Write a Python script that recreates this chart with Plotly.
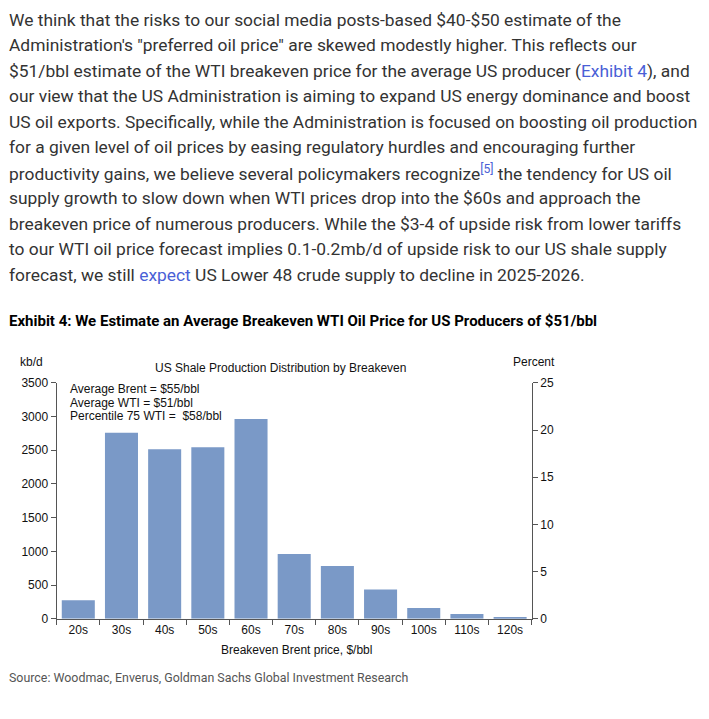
import plotly.graph_objects as go

W, H = 709, 719

categories = ["20s", "30s", "40s", "50s", "60s", "70s", "80s", "90s", "100s", "110s", "120s"]
production_kbd = [275, 2760, 2515, 2545, 2965, 960, 785, 435, 160, 73, 29]
left_ticks = [0, 500, 1000, 1500, 2000, 2500, 3000, 3500]
right_ticks = [0, 5, 10, 15, 20, 25]

LINK = "#4a5fd6"
paragraph_lines = [
    "We think that the risks to our social media posts-based $40-$50 estimate of the",
    "Administration's \"preferred oil price\" are skewed modestly higher. This reflects our",
    "$51/bbl estimate of the WTI breakeven price for the average US producer (<span style='color:%s'>Exhibit 4</span>), and" % LINK,
    "our view that the US Administration is aiming to expand US energy dominance and boost",
    "US oil exports. Specifically, while the Administration is focused on boosting oil production",
    "for a given level of oil prices by easing regulatory hurdles and encouraging further",
    "productivity gains, we believe several policymakers recognize<sup><span style='color:%s'>[5]</span></sup> the tendency for US oil" % LINK,
    "supply growth to slow down when WTI prices drop into the $60s and approach the",
    "breakeven price of numerous producers. While the $3-4 of upside risk from lower tariffs",
    "to our WTI oil price forecast implies 0.1-0.2mb/d of upside risk to our US shale supply",
    "forecast, we still <span style='color:%s'>expect</span> US Lower 48 crude supply to decline in 2025-2026." % LINK,
]
heading = "Exhibit 4: We Estimate an Average Breakeven WTI Oil Price for US Producers of $51/bbl"
chart_title = "US Shale Production Distribution by Breakeven"
stats_lines = ["Average Brent = $55/bbl", "Average WTI = $51/bbl", "Percentile 75 WTI =  $58/bbl"]
source = "Source: Woodmac, Enverus, Goldman Sachs Global Investment Research"

def px(x):
    return x / W

def py(y):
    return 1 - y / H

x0, x1 = 56.7, 531.7
y_top, y_bot = 383.3, 624.0

fig = go.Figure()
fig.add_trace(go.Bar(x=categories, y=production_kbd, marker=dict(color="#7a99c7", line=dict(width=0)),
                     hoverinfo="skip", showlegend=False))
fig.add_trace(go.Scatter(x=[categories[0]], y=[None], yaxis="y2", showlegend=False, hoverinfo="skip"))

AX = "#555555"
CH = "Liberation Sans, Arial, sans-serif"
fig.update_layout(
    width=W, height=H, autosize=False,
    margin=dict(l=0, r=0, t=0, b=0),
    paper_bgcolor="white", plot_bgcolor="white",
    bargap=0.235,
    xaxis=dict(domain=[px(x0), px(x1)], range=[-0.5, 10.5], type="category",
               showline=True, linecolor=AX, linewidth=1.3, ticks="outside", tickson="boundaries",
               ticklen=5, tickcolor=AX, tickfont=dict(family=CH, size=12, color="#111"),
               showgrid=False, zeroline=False, fixedrange=True),
    yaxis=dict(domain=[py(y_bot), py(y_top)], range=[0, 3500], tickvals=left_ticks,
               showline=True, linecolor=AX, linewidth=1.3, ticks="outside", ticklen=5, tickcolor=AX,
               tickfont=dict(family=CH, size=12, color="#111"), showgrid=False, zeroline=False),
    yaxis2=dict(range=[0, 25], tickvals=right_ticks, overlaying="y", side="right", anchor="x",
                showline=True, linecolor=AX, linewidth=1.3, ticks="outside", ticklen=5, tickcolor=AX,
                tickfont=dict(family=CH, size=12, color="#111"), showgrid=False, zeroline=False),
)

ann = []
PF = "Roboto, sans-serif"
for i, line in enumerate(paragraph_lines):
    ann.append(dict(text=line, x=px(7), y=py(13 + 26 * i), xref="paper", yref="paper",
                    xanchor="left", yanchor="middle", showarrow=False,
                    font=dict(family=PF, size=17.4, color="#333333")))
ann.append(dict(text="<b>" + heading + "</b>", x=px(7), y=py(320), xref="paper", yref="paper",
                xanchor="left", yanchor="middle", showarrow=False,
                font=dict(family="Roboto, sans-serif", size=15, color="#000000")))
ann.append(dict(text=chart_title, x=px(280), y=py(368), xref="paper", yref="paper",
                xanchor="center", yanchor="middle", showarrow=False,
                font=dict(family=CH, size=12, color="#111")))
ann.append(dict(text="kb/d", x=px(18), y=py(362), xref="paper", yref="paper",
                xanchor="left", yanchor="middle", showarrow=False,
                font=dict(family=CH, size=12, color="#111")))
ann.append(dict(text="Percent", x=px(557), y=py(362), xref="paper", yref="paper",
                xanchor="right", yanchor="middle", showarrow=False,
                font=dict(family=CH, size=12, color="#111")))
for i, line in enumerate(stats_lines):
    ann.append(dict(text=line, x=px(68), y=py(390 + 13.8 * i), xref="paper", yref="paper",
                    xanchor="left", yanchor="middle", showarrow=False,
                    font=dict(family=CH, size=12, color="#111")))
ann.append(dict(text="Breakeven Brent price, $/bbl", x=px(296), y=py(656), xref="paper", yref="paper",
                xanchor="center", yanchor="middle", showarrow=False,
                font=dict(family=CH, size=12, color="#111")))
ann.append(dict(text=source, x=px(7), y=py(684), xref="paper", yref="paper",
                xanchor="left", yanchor="middle", showarrow=False,
                font=dict(family="Roboto, sans-serif", size=12.4, color="#555555")))
fig.update_layout(annotations=ann)

css_fix = (
    "var s=document.createElement('style');"
    "s.textContent='html,body{margin:0;padding:0;overflow:hidden;height:719px;}"
    "body>div{height:719px;overflow:hidden;line-height:0;font-size:0;}';"
    "document.head.appendChild(s);"
)
fig.write_html("out.html", config={"displayModeBar": False}, post_script=css_fix)
